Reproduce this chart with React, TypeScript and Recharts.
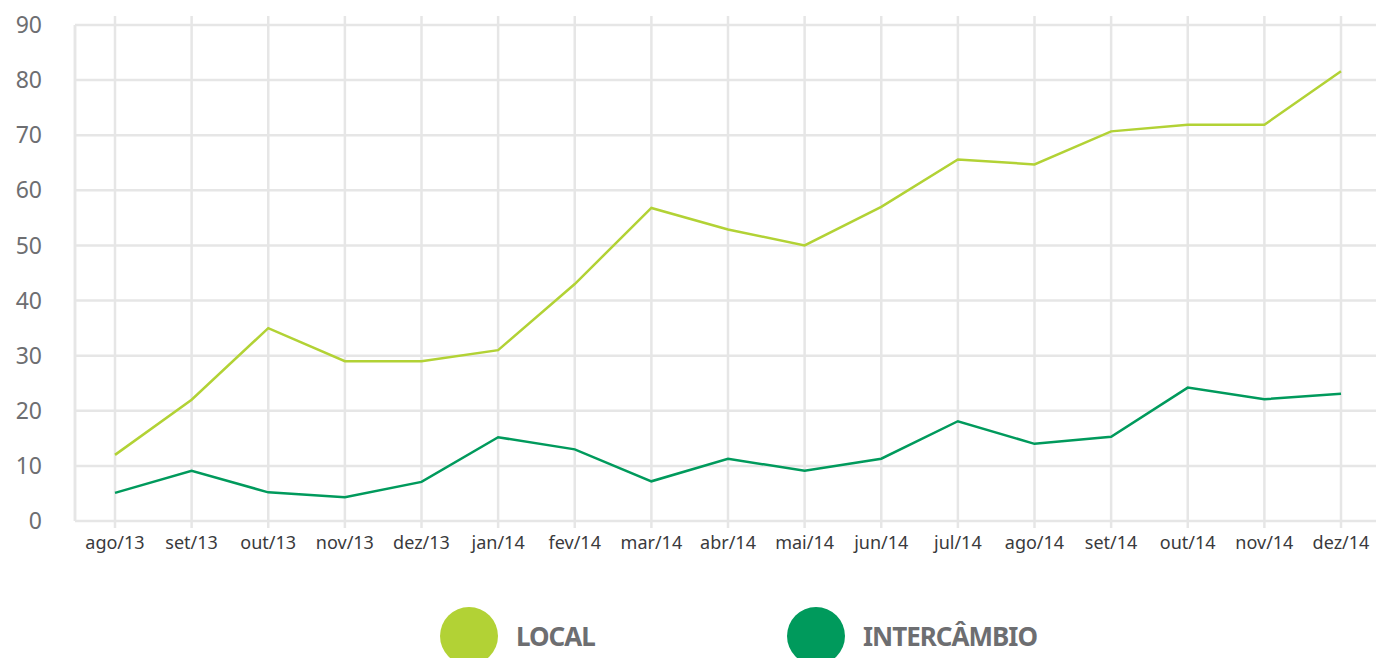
import { LineChart, Line, XAxis, YAxis, CartesianGrid } from "recharts"

const months = [
    "ago/13", "set/13", "out/13", "nov/13", "dez/13", "jan/14", "fev/14", "mar/14", "abr/14",
    "mai/14", "jun/14", "jul/14", "ago/14", "set/14", "out/14", "nov/14", "dez/14",
]
const local = [12, 22, 35, 29, 29, 31, 43, 56.8, 52.9, 50, 57, 65.6, 64.7, 70.7, 71.9, 71.9, 81.6]
const intercambio = [5.1, 9.1, 5.2, 4.3, 7.1, 15.2, 13, 7.2, 11.3, 9.1, 11.3, 18.1, 14, 15.3, 24.2, 22.1, 23.1]
const yTicks = [0, 10, 20, 30, 40, 50, 60, 70, 80, 90]

const series = [
    { key: "local", name: "LOCAL", color: "#b2d235" },
    { key: "intercambio", name: "INTERCÂMBIO", color: "#009a5c" },
]

const data = months.map((m, i) => ({ month: m, local: local[i], intercambio: intercambio[i] }))

const GRID = "#e6e6e6"

export default function App() {
    return (
        <div style={{ position: "absolute", left: 0, top: 0, width: 1376, height: 658, overflow: "hidden", background: "#fff" }}>
            <LineChart width={1381} height={658} data={data} margin={{ top: 24, right: 0, bottom: 0, left: 0 }}>
                <CartesianGrid stroke={GRID} strokeWidth={2.5} />
                {/* top axis only used to poke the vertical grid lines above the plot */}
                <XAxis
                    xAxisId="top"
                    orientation="top"
                    dataKey="month"
                    height={1}
                    padding={{ left: 40, right: 40 }}
                    axisLine={false}
                    tickSize={9}
                    tickLine={{ stroke: GRID, strokeWidth: 2.5 }}
                    tick={{ fill: "none", fontSize: 1 }}
                    interval={0}
                />
                <XAxis
                    dataKey="month"
                    height={137}
                    padding={{ left: 40, right: 40 }}
                    axisLine={false}
                    tickSize={7}
                    tickMargin={8}
                    tickLine={{ stroke: GRID, strokeWidth: 2.5 }}
                    tick={{ fill: "#3a3a3c", fontSize: 18, fontFamily: "Noto Sans" }}
                    interval={0}
                />
                <YAxis
                    width={75}
                    domain={[0, 90]}
                    ticks={yTicks}
                    axisLine={{ stroke: GRID, strokeWidth: 2.5 }}
                    tickLine={false}
                    tickSize={0}
                    tickMargin={33}
                    tick={{ fill: "#6d6e71", fontSize: 23, fontFamily: "Noto Sans" }}
                />
                {series.map((s) => (
                    <Line
                        key={s.key}
                        xAxisId={0}
                        dataKey={s.key}
                        name={s.name}
                        stroke={s.color}
                        strokeWidth={2.5}
                        dot={false}
                        type="linear"
                        isAnimationActive={false}
                    />
                ))}
            </LineChart>
            <div style={{ position: "absolute", left: 440, top: 607, display: "flex", fontFamily: "Noto Sans" }}>
                {series.map((s) => (
                    <div key={s.key} style={{ width: 347, display: "flex", alignItems: "center" }}>
                        <div style={{ width: 58, height: 58, borderRadius: "50%", background: s.color }} />
                        <span style={{ marginLeft: 18, fontSize: 26, fontWeight: 700, color: "#6d6e71", letterSpacing: -1 }}>
                            {s.name}
                        </span>
                    </div>
                ))}
            </div>
        </div>
    )
}
